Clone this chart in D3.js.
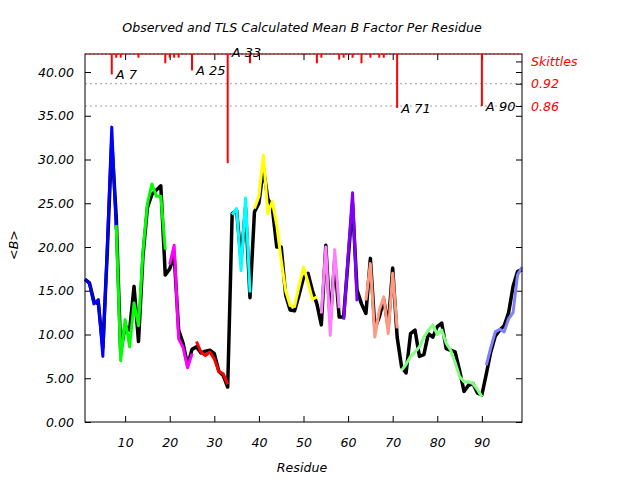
<!DOCTYPE html>
<html>
<head>
<meta charset="utf-8">
<script src="https://cdn.jsdelivr.net/npm/d3@7"></script>
<style>
  body { margin: 0; background: #fff; }
  text { font-family: "DejaVu Sans", sans-serif; font-style: italic; font-size: 12.6px; }
</style>
</head>
<body>
<div id="chart"></div>
<script>
// Observed and TLS calculated mean B factor per residue

// observed <B>, residues 1..99
var observed = [16.3, 15.9, 13.8, 13.5, 8.5, 19.5, 32.0, 23.5, 8.0, 11.0,
	10.5, 15.5, 9.2, 19.0, 24.5, 26.0, 26.5, 27.0, 16.8, 17.5,
	19.0, 10.5, 9.0, 6.5, 8.3, 8.6, 7.9, 8.1, 8.2, 7.8,
	5.8, 5.3, 4.0, 23.8, 24.2, 18.5, 24.5, 14.2, 24.0, 25.0,
	29.0, 25.5, 24.5, 20.0, 20.0, 14.5, 12.8, 12.7, 14.5, 16.5,
	17.0, 15.0, 13.5, 11.1, 20.2, 11.5, 18.5, 12.0, 12.0, 18.5,
	25.0, 15.1, 13.5, 12.4, 18.7, 10.7, 12.0, 14.0, 10.9, 17.6,
	9.7, 6.3, 5.6, 10.1, 10.5, 7.5, 7.7, 10.1, 9.7, 10.9,
	11.3, 8.4, 8.2, 8.0, 5.9, 3.5, 4.2, 4.4, 3.3, 3.1,
	5.5, 8.0, 9.8, 10.5, 11.0, 12.5, 15.5, 17.2, 17.4];

// TLS calculated <B>, one array per TLS group
var tlsStarts = [1, 8, 20, 26, 34, 39, 54, 59, 64, 72, 91];
var tlsColors = ['#0000ff', '#00ff00', '#ff00ff', '#ff0000', '#00ffff', '#ffff00',
	'#ff80ff', '#8000ff', '#ff9980', '#80ff80', '#8080ff'];
var tls1 = [16.3, 15.8, 13.5, 14.0, 7.5, 20.0, 33.7, 22.0];
var tls2 = [22.5, 7.0, 11.7, 8.6, 13.6, 11.0, 19.5, 25.0, 27.2, 25.8, 25.8, 19.7];
var tls3 = [18.0, 20.2, 9.5, 8.5, 6.2, 7.8];
var tls4 = [9.2, 8.0, 7.6, 8.0, 7.2, 5.8, 5.5, 4.3];
var tls5 = [23.7, 24.4, 17.3, 25.6, 14.8];
var tls6 = [24.4, 25.8, 30.5, 23.8, 25.2, 22.5, 18.5, 15.0, 13.3, 13.2, 15.5, 17.7, 16.0, 14.0, 14.3];
var tls7 = [12.4, 20.0, 9.9, 19.7, 13.0];
var tls8 = [11.7, 18.9, 26.2, 13.8];
var tls9 = [13.9, 18.1, 9.7, 12.8, 14.3, 10.1, 17.0, 10.7];
var tls10 = [5.9, 6.6, 7.5, 8.0, 8.6, 9.7, 10.5, 11.1, 10.0, 10.5, 9.0, 8.2, 6.8, 5.2, 4.6, 4.6, 4.4, 3.7, 2.9];
var tls11 = [6.5, 8.5, 10.3, 10.6, 10.3, 11.8, 12.5, 16.8, 17.7];
var tlsValues = [tls1, tls2, tls3, tls4, tls5, tls6, tls7, tls8, tls9, tls10, tls11];

// Skittles spikes
var skitRes = [7, 8, 9, 13, 19, 20, 21, 22, 25, 33, 38, 53, 54, 58, 59, 61, 63, 65, 67, 68, 71, 90];
var skitVal = [0.945, 0.99, 0.99, 0.99, 0.975, 0.99, 0.99, 0.99, 0.956, 0.706, 0.975, 0.975, 0.99,
	0.985, 0.99, 0.99, 0.975, 0.99, 0.99, 0.99, 0.855, 0.86];
var skitLabelRes = [7, 25, 33, 71, 90];

var xTicks = [10, 20, 30, 40, 50, 60, 70, 80, 90];
var yTicks = [0, 5, 10, 15, 20, 25, 30, 35, 40];
var skitTicks = [0.92, 0.86];

var width = 640, height = 480,
	margin = {top: 54, right: 118, bottom: 58, left: 85};
var plotW = width - margin.left - margin.right,
	plotH = height - margin.top - margin.bottom;

var x = d3.scaleLinear().domain([1, 99]).range([0, plotW]);
var y = d3.scaleLinear().domain([0, 40]).range([plotH, plotH - 350]);
var yS = d3.scaleLinear().domain([0.86, 1.0]).range([52, 0]);

var svg = d3.select('#chart').append('svg')
	.attr('width', width)
	.attr('height', height);

svg.append('text')
	.attr('x', 302).attr('y', 32)
	.attr('text-anchor', 'middle')
	.text('Observed and TLS Calculated Mean B Factor Per Residue');

var g = svg.append('g')
	.attr('transform', 'translate(' + margin.left + ',' + margin.top + ')');

// skittles reference lines
g.selectAll('.sgrid').data(skitTicks).enter().append('line')
	.attr('x1', 0).attr('x2', plotW)
	.attr('y1', function(d) { return yS(d); })
	.attr('y2', function(d) { return yS(d); })
	.attr('stroke', '#a0a0a0')
	.attr('stroke-width', 1)
	.attr('stroke-dasharray', '2,3');

// axes, ticks inward
function styleAxis(sel) {
	sel.select('.domain').remove();
	sel.selectAll('.tick line').attr('stroke', '#000');
	sel.selectAll('.tick text').style('font-family', '"DejaVu Sans", sans-serif')
		.style('font-style', 'italic').style('font-size', '12.6px').attr('fill', '#000');
}

g.append('g')
	.attr('transform', 'translate(0,' + plotH + ')')
	.call(d3.axisBottom(x).tickValues(xTicks).tickSizeInner(-6).tickPadding(16).tickFormat(d3.format('d')))
	.call(styleAxis);

g.append('g')
	.call(d3.axisTop(x).tickValues(xTicks).tickSizeInner(-6).tickFormat(''))
	.call(styleAxis);

g.append('g')
	.call(d3.axisLeft(y).tickValues(yTicks).tickSizeInner(-6).tickPadding(11).tickFormat(d3.format('.2f')))
	.call(styleAxis);

g.append('g')
	.attr('transform', 'translate(' + plotW + ',0)')
	.call(d3.axisRight(y).tickValues(yTicks).tickSizeInner(-6).tickFormat(''))
	.call(styleAxis);

var rightAxis = g.append('g')
	.attr('transform', 'translate(' + plotW + ',0)')
	.call(d3.axisRight(yS).tickValues([0.98].concat(skitTicks)).tickSizeInner(-6).tickPadding(9)
		.tickFormat(function(d) { return d === 0.98 ? 'Skittles' : d3.format('.2f')(d); }))
	.call(styleAxis);
rightAxis.selectAll('.tick text').attr('fill', '#ff0000');

// observed line in black
var line = d3.line()
	.x(function(d) { return x(d.res); })
	.y(function(d) { return y(d.b); });

g.append('path')
	.datum(observed.map(function(b, i) { return {res: i + 1, b: b}; }))
	.attr('d', line)
	.attr('fill', 'none')
	.attr('stroke', '#000')
	.attr('stroke-width', 3.5)
	.attr('stroke-linejoin', 'round');

// TLS groups
tlsValues.forEach(function(vals, k) {
	g.append('path')
		.datum(vals.map(function(b, i) { return {res: tlsStarts[k] + i, b: b}; }))
		.attr('d', line)
		.attr('fill', 'none')
		.attr('stroke', tlsColors[k])
		.attr('stroke-width', 3)
		.attr('stroke-linejoin', 'round');
});

// frame
g.append('rect')
	.attr('width', plotW).attr('height', plotH)
	.attr('fill', 'none').attr('stroke', '#000').attr('stroke-width', 1);

g.append('line')
	.attr('x1', 0).attr('x2', plotW).attr('y1', 0).attr('y2', 0)
	.attr('stroke', '#ff0000').attr('stroke-width', 1.2)
	.attr('stroke-dasharray', '2,2');

// skittles spikes
var skit = skitRes.map(function(r, i) { return {res: r, v: skitVal[i]}; });

g.selectAll('.spike').data(skit).enter().append('line')
	.attr('x1', function(d) { return x(d.res); })
	.attr('x2', function(d) { return x(d.res); })
	.attr('y1', 0)
	.attr('y2', function(d) { return yS(d.v); })
	.attr('stroke', '#ff0000')
	.attr('stroke-width', 2);

g.selectAll('.slabel').data(skit.filter(function(d) { return skitLabelRes.indexOf(d.res) >= 0; }))
	.enter().append('text')
	.attr('x', function(d) { return x(d.res) + 4; })
	.attr('y', function(d) { return d.v < 0.8 ? 3 : yS(d.v) + 5; })
	.style('font-size', '13px')
	.text(function(d) { return 'A ' + d.res; });

// axis titles
svg.append('text')
	.attr('x', 302).attr('y', 472)
	.attr('text-anchor', 'middle')
	.text('Residue');

svg.append('text')
	.attr('transform', 'translate(18,245) rotate(-90)')
	.attr('text-anchor', 'middle')
	.text('<B>');
</script>
</body>
</html>
